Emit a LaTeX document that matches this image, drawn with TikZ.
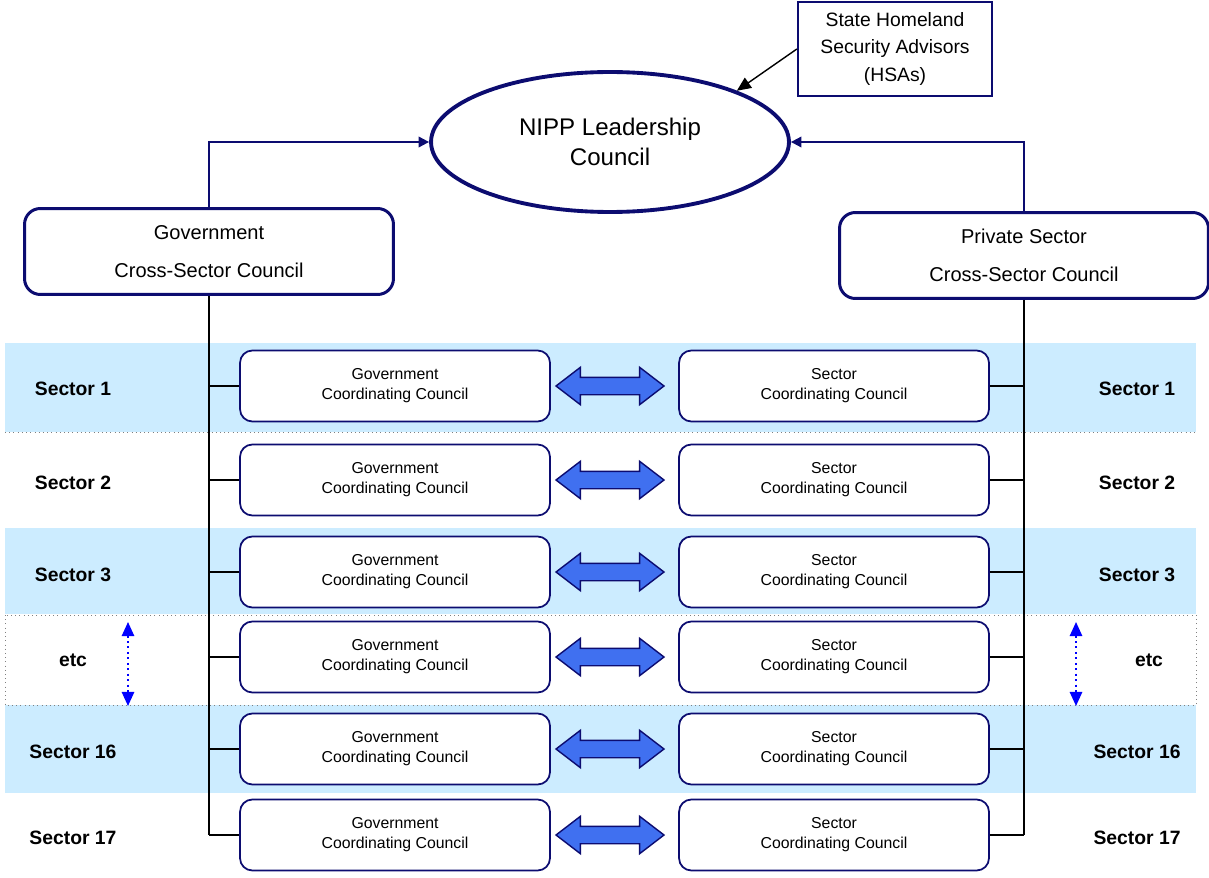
\documentclass[tikz,border=0pt]{standalone}
\usepackage{fontspec}
\setmainfont{Liberation Sans}
\usetikzlibrary{shapes.geometric,shapes.arrows,arrows.meta}
\definecolor{navy}{RGB}{12,12,112}
\definecolor{bandblue}{RGB}{204,236,255}
\definecolor{arrowblue}{RGB}{64,112,240}
\tikzset{
  council/.style={draw=navy, line width=1pt, rounded corners=7pt, fill=white,
    align=center, inner sep=0pt, minimum width=6.2cm, minimum height=1.42cm,
    font=\fontsize{9}{11.4}\selectfont},
  crossbox/.style={draw=navy, line width=1.7pt, rounded corners=9pt, fill=white,
    align=center, inner sep=0pt, minimum width=7.38cm, minimum height=1.72cm,
    font=\fontsize{11.4}{21.5}\selectfont},
  sectorlab/.style={font=\fontsize{11}{13}\selectfont\bfseries},
  dblarrow/.style={double arrow, draw=navy, fill=arrowblue, line width=0.8pt,
    inner xsep=0pt, inner ysep=0.16cm, minimum height=2.16cm,
    double arrow head extend=0.2cm, double arrow tip angle=75},
  tap/.style={line width=0.85pt},
  feed/.style={draw=navy, line width=1.1pt, -{Triangle[length=6pt,width=6pt]}}
}
\begin{document}
\begin{tikzpicture}[x=0.02cm,y=-0.02cm]
\useasboundingbox (0,0) rectangle (1209,878);

% sector bands
\fill[bandblue] (5,343) rectangle (1196,432);
\fill[bandblue] (5,528) rectangle (1196,614);
\fill[bandblue] (5,705) rectangle (1196,793);
\draw[gray, dotted, line width=0.4pt] (5,432) -- (1196,432);
\draw[gray, dotted, line width=0.4pt] (5,615) rectangle (1196,705);

% top level
\node[ellipse, draw=navy, line width=2.2pt, minimum width=7.16cm, minimum height=2.8cm,
  align=center, font=\fontsize{13.7}{17}\selectfont] (nipp) at (610,142)
  {NIPP Leadership\\Council};
\node[draw=navy, line width=1.3pt, align=center, minimum width=3.88cm, minimum height=1.88cm,
  inner sep=0pt, font=\fontsize{11}{15.4}\selectfont] (hsa) at (895,49)
  {State Homeland\\Security Advisors\\(HSAs)};
\draw[line width=0.8pt, -{Triangle[length=8pt,width=7pt]}] (hsa.west) -- (nipp.22);

\node[crossbox] (gcsc) at (209,251.5) {Government\\Cross-Sector Council};
\node[crossbox] (pcsc) at (1024,255.5) {Private Sector\\Cross-Sector Council};
\draw[feed] (gcsc.north) |- (nipp.west);
\draw[feed] (pcsc.north) |- (nipp.east);

% one row per sector
\foreach \y/\lab/\rx [count=\i] in {386/Sector 1/1137, 480/Sector 2/1137,
    572/Sector 3/1137, 657/etc/1149, 749/Sector 16/1137, 835/Sector 17/1137}{
  \node[council] (gov\i) at (395,\y) {Government\\Coordinating Council};
  \node[council] (sec\i) at (834,\y) {Sector\\Coordinating Council};
  \node[dblarrow] (link\i) at (610,\y) {};
  \node[sectorlab] (left\i) at (73,\y+3) {\lab};
  \node[sectorlab] (right\i) at (\rx,\y+3) {\lab};
  \coordinate (gtap\i) at (gcsc.south |- gov\i.west);
  \coordinate (ptap\i) at (pcsc.south |- sec\i.east);
  \draw[tap] (gtap\i) -- (gov\i.west);
  \draw[tap] (sec\i.east) -- (ptap\i);
}
\draw[tap] (gcsc.south) -- (gtap6);
\draw[tap] (pcsc.south) -- (ptap6);

% etc markers
\coordinate (etcLtop) at (128,622);
\coordinate (etcLbot) at (128,706);
\coordinate (etcRtop) at (1076,622);
\coordinate (etcRbot) at (1076,706);
\draw[blue, dotted, line width=1.1pt, {Triangle[length=8pt,width=7pt]}-{Triangle[length=8pt,width=7pt]}]
  (etcLtop) -- (etcLbot);
\draw[blue, dotted, line width=1.1pt, {Triangle[length=8pt,width=7pt]}-{Triangle[length=8pt,width=7pt]}]
  (etcRtop) -- (etcRbot);
\end{tikzpicture}
\end{document}
